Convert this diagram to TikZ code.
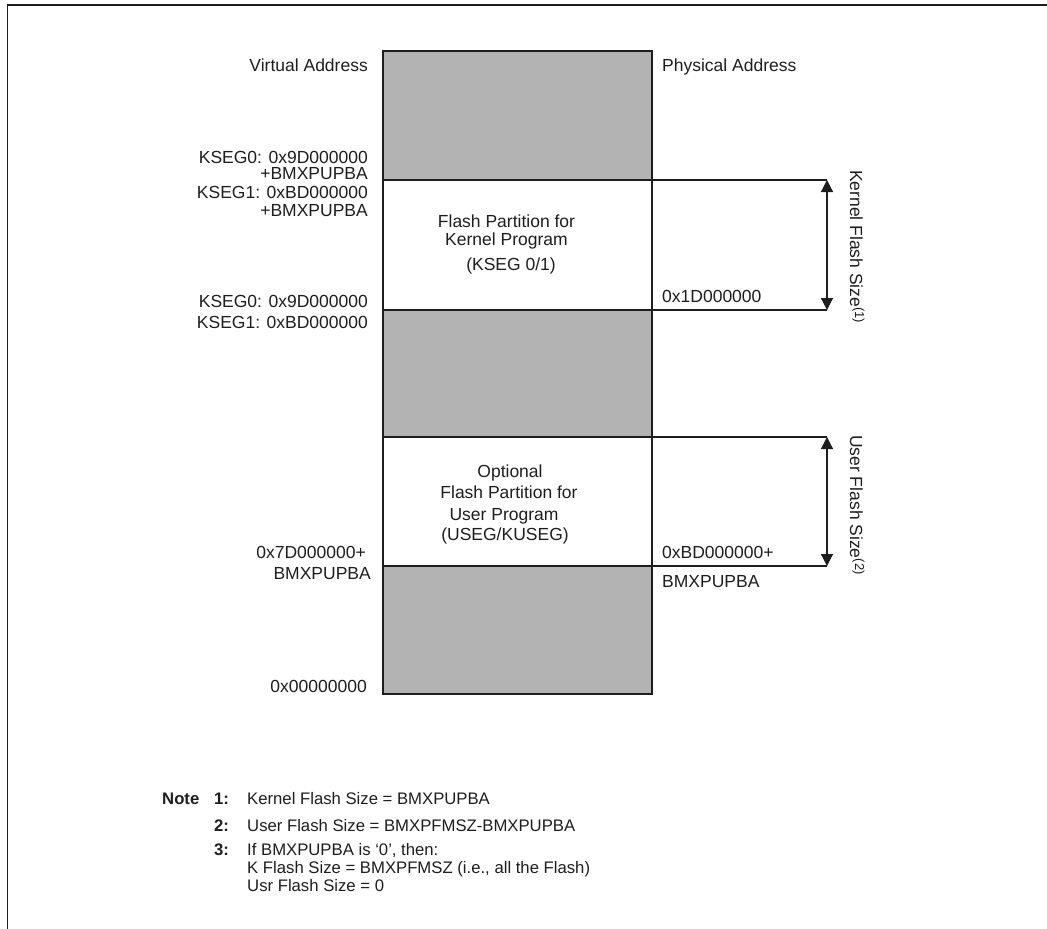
\documentclass[tikz,border=0pt]{standalone}
\usepackage{fontspec}
\setmainfont{Liberation Sans}
\usetikzlibrary{arrows.meta}
\definecolor{memgray}{RGB}{179,179,179}
\definecolor{ink}{RGB}{30,30,30}
\begin{document}
\begin{tikzpicture}[x=1pt,y=-1pt,
  lbl/.style={inner sep=0pt, text=ink, font=\fontsize{17.5}{17.5}\selectfont},
  notetext/.style={inner sep=0pt, text=ink, font=\fontsize{16.7}{17.5}\selectfont},
  notenum/.style={inner sep=0pt, text=ink, font=\fontsize{16.7}{17.5}\selectfont\bfseries},
  frameline/.style={draw=ink, line width=1.8pt},
  colline/.style={draw=ink, line width=1.2pt},
  blockfill/.style={fill=memgray},
  tick/.style={draw=ink, line width=1.2pt},
  sizearrow/.style={draw=ink, line width=1.2pt, {Triangle[length=12pt,width=12pt]}-{Triangle[length=12pt,width=12pt]}},
  sidelbl/.style={lbl, rotate=-90, anchor=base west}
]
\useasboundingbox (0,0) rectangle (1047,929);
% frame
\coordinate (frTR) at (1047,5);
\coordinate (frTL) at (7.5,5);
\coordinate (frBL) at (7.5,929);
\draw[frameline] (frTR) -- (frTL) -- (frBL);

% memory column
\coordinate (cTL) at (383,51);
\coordinate (cBR) at (652,694);
\path[blockfill] (383,51) rectangle (652,180);
\path[blockfill] (383,310) rectangle (652,437);
\path[blockfill] (383,566) rectangle (652,694);
\draw[colline] (cTL) rectangle (cBR);

% boundary lines
\coordinate (kTopL) at (383,180); \coordinate (kTopR) at (827,180);
\coordinate (kBotL) at (383,310); \coordinate (kBotR) at (827,310);
\coordinate (uTopL) at (383,437); \coordinate (uTopR) at (827,437);
\coordinate (uBotL) at (383,566); \coordinate (uBotR) at (827,566);
\draw[tick] (kTopL) -- (kTopR);
\draw[tick] (kBotL) -- (kBotR);
\draw[tick] (uTopL) -- (uTopR);
\draw[tick] (uBotL) -- (uBotR);

% size arrows
\draw[sizearrow] (kTopR) -- (kBotR);
\draw[sizearrow] (uTopR) -- (uBotR);

% rotated labels
\node[sidelbl] (ksize) at (850,170) {Kernel Flash Size\raisebox{5pt}{\fontsize{13}{13}\selectfont(1)}};
\node[sidelbl] (usize) at (850,435) {User Flash Size\raisebox{5pt}{\fontsize{13}{13}\selectfont(2)}};

% column headers
\node[lbl, anchor=base east] (va) at (368,71) {Virtual Address};
\node[lbl, anchor=base west] (pa) at (662,71) {Physical Address};

% left labels
\node[lbl, anchor=base east] (l1) at (368,163) {KSEG0: 0x9D000000};
\node[lbl, anchor=base east] (l2) at (368,179) {+BMXPUPBA};
\node[lbl, anchor=base east] (l3) at (368,198) {KSEG1: 0xBD000000};
\node[lbl, anchor=base east] (l4) at (368,216) {+BMXPUPBA};
\node[lbl, anchor=base east] (l5) at (368,307) {KSEG0: 0x9D000000};
\node[lbl, anchor=base east] (l6) at (368,328) {KSEG1: 0xBD000000};
\node[lbl, anchor=base east] (l7) at (366,558) {0x7D000000+};
\node[lbl, anchor=base east] (l8) at (371,579) {BMXPUPBA};
\node[lbl, anchor=base east] (l9) at (367,692) {0x00000000};

% right labels
\node[lbl, anchor=base west] (r1) at (662,302) {0x1D000000};
\node[lbl, anchor=base west] (r2) at (662,558) {0xBD000000+};
\node[lbl, anchor=base west] (r3) at (662,587) {BMXPUPBA};

% segment texts
\node[lbl, anchor=base] (k1) at (506.5,227) {Flash Partition for};
\node[lbl, anchor=base] (k2) at (506.5,245) {Kernel Program};
\node[lbl, anchor=base] (k3) at (511,270) {(KSEG 0/1)};
\node[lbl, anchor=base] (u1) at (510,477) {Optional};
\node[lbl, anchor=base] (u2) at (509,498) {Flash Partition for};
\node[lbl, anchor=base] (u3) at (504,520) {User Program};
\node[lbl, anchor=base] (u4) at (505,540) {(USEG/KUSEG)};

% notes
\node[notenum, anchor=base west] (n0) at (162,804) {Note};
\node[notenum, anchor=base west] (n1) at (214,804) {1:};
\node[notetext, anchor=base west] (t1) at (247,804) {Kernel Flash Size = BMXPUPBA};
\node[notenum, anchor=base west] (n2) at (214,831) {2:};
\node[notetext, anchor=base west] (t2) at (247,831) {User Flash Size = BMXPFMSZ-BMXPUPBA};
\node[notenum, anchor=base west] (n3) at (214,855) {3:};
\node[notetext, anchor=base west] (t3) at (247,855) {If BMXPUPBA is ‘0’, then:};
\node[notetext, anchor=base west] (t4) at (247,873) {K Flash Size = BMXPFMSZ (i.e., all the Flash)};
\node[notetext, anchor=base west] (t5) at (247,891) {Usr Flash Size = 0};
\end{tikzpicture}
\end{document}
